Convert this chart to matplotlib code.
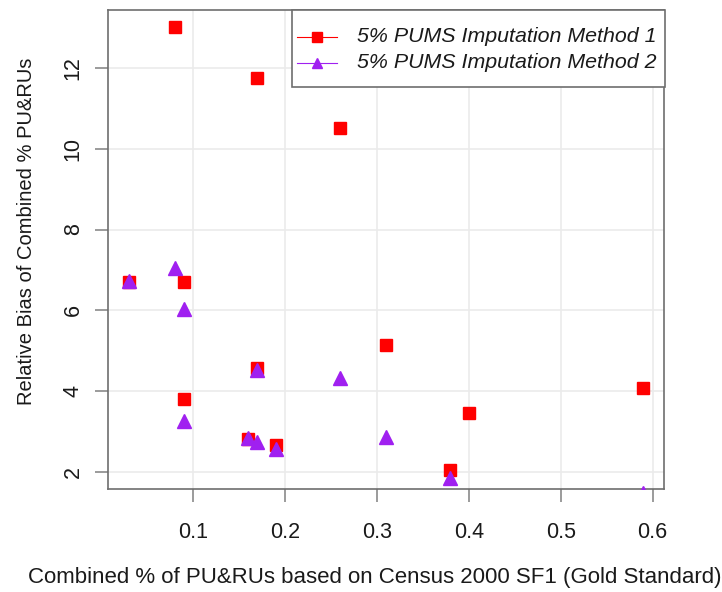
import matplotlib
matplotlib.use("Agg")
import matplotlib.pyplot as plt
from matplotlib.lines import Line2D
from matplotlib.patches import Rectangle

# Data
x_m1 = [0.03, 0.08, 0.09, 0.09, 0.16, 0.17, 0.17, 0.19, 0.26, 0.31, 0.38, 0.40, 0.59]
y_m1 = [6.69, 13.02, 6.69, 3.80, 2.81, 11.75, 4.57, 2.66, 10.51, 5.14, 2.04, 3.46, 4.08]
x_m2 = [0.03, 0.08, 0.09, 0.09, 0.16, 0.17, 0.17, 0.19, 0.26, 0.31, 0.38, 0.59]
y_m2 = [6.73, 7.04, 6.02, 3.26, 2.83, 4.53, 2.74, 2.55, 4.33, 2.85, 1.85, 1.46]
x_ticks = [0.1, 0.2, 0.3, 0.4, 0.5, 0.6]
y_ticks = [2, 4, 6, 8, 10, 12]
labels = ["5% PUMS Imputation Method 1", "5% PUMS Imputation Method 2"]
xlabel = "Combined % of PU&RUs based on Census 2000 SF1 (Gold Standard)"
ylabel = "Relative Bias of Combined % PU&RUs"

plt.rcParams['font.family'] = ['Liberation Sans', 'DejaVu Sans']

W, H = 722, 592
fig = plt.figure(figsize=(W/100, H/100), dpi=100)
L, R, T, B = 108, 664, 10, 489
ax = fig.add_axes([L/W, 1 - B/H, (R-L)/W, (B-T)/H])

ax.set_xlim(0.0076, 0.6124)
ax.set_ylim(1.57, 13.44)
ax.set_xticks(x_ticks)
ax.set_yticks(y_ticks)
ax.set_xticklabels([f"{v:g}" for v in x_ticks])
ax.set_yticklabels([str(v) for v in y_ticks], rotation=90, va='center')
ax.grid(True, color='#ebebeb', lw=1.2)
ax.set_axisbelow(True)

frame_c = '#6e6e6e'
for s in ax.spines.values():
    s.set_color(frame_c)
    s.set_linewidth(1.2)
ax.tick_params(axis='both', direction='out', length=9.5, width=1.2, color='#8a8a8a',
               labelsize=15.5, labelcolor='#1a1a1a')
ax.tick_params(axis='x', pad=14)
ax.tick_params(axis='y', pad=8)

red = '#ff0000'
purple = '#a020f0'
ax.plot(x_m1, y_m1, ls='none', marker='s', ms=8, color=red, zorder=3)
ax.plot(x_m2, y_m2, ls='none', marker='^', ms=9.5, color=purple, zorder=4)

# Legend drawn in figure pixel coordinates (R-style box touching the plot corner)
def fx(px):
    return px / W

def fy(py):
    return 1 - py / H

fig.add_artist(Rectangle((fx(292), fy(87)), fx(665) - fx(292), fy(10) - fy(87),
                         transform=fig.transFigure, facecolor='white',
                         edgecolor=frame_c, lw=1.2, zorder=5))
rows = [(37, red, 's', 6.5), (63, purple, '^', 7.5)]
for (py, c, m, ms), lab in zip(rows, labels):
    fig.add_artist(Line2D([fx(297), fx(337)], [fy(py), fy(py)], transform=fig.transFigure,
                          color=c, lw=0.8, zorder=6))
    fig.add_artist(Line2D([fx(317)], [fy(py)], transform=fig.transFigure, color=c,
                          marker=m, ms=ms, ls='none', zorder=7))
    fig.text(fx(357), fy(py), lab, ha='left', va='center', fontsize=15.4,
             style='italic', color='#1a1a1a', zorder=7)

fig.text(375/W, 1 - 578/H, xlabel, ha='center', va='center', fontsize=16, color='#1a1a1a')
fig.text(27/W, 1 - 231/H, ylabel, ha='center', va='center', rotation=90, fontsize=14.5, color='#1a1a1a')

fig.savefig("out.png", dpi=100)
